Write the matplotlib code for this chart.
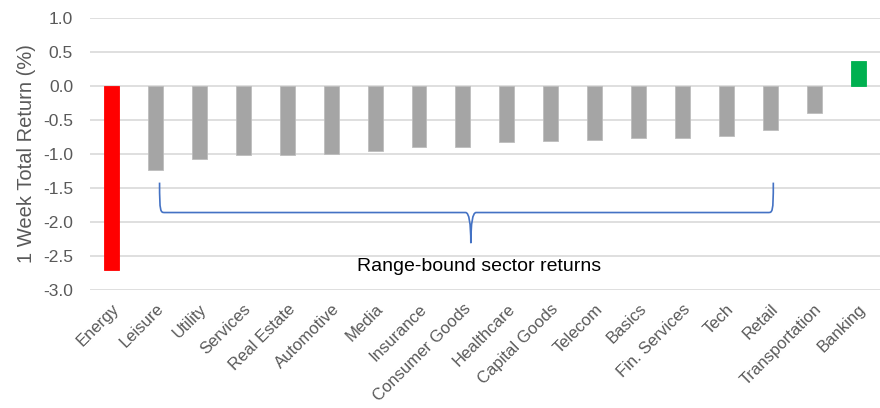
import numpy as np
import matplotlib.pyplot as plt
from matplotlib.path import Path
from matplotlib.patches import PathPatch

sectors = ["Energy", "Leisure", "Utility", "Services", "Real Estate", "Automotive",
           "Media", "Insurance", "Consumer Goods", "Healthcare", "Capital Goods",
           "Telecom", "Basics", "Fin. Services", "Tech", "Retail", "Transportation",
           "Banking"]
returns = [-2.70, -1.24, -1.07, -1.02, -1.02, -1.00, -0.96, -0.90, -0.90, -0.83,
           -0.81, -0.79, -0.77, -0.77, -0.73, -0.64, -0.40, 0.36]
yticks = [1.0, 0.5, 0.0, -0.5, -1.0, -1.5, -2.0, -2.5, -3.0]

# bracket over the range-bound group (Leisure .. Retail)
brace_first, brace_last = 1, 15
brace_label = "Range-bound sector returns"

plt.rcParams["font.family"] = ["Liberation Sans", "DejaVu Sans"]

colors = []
for r in returns:
    if r == min(returns):
        colors.append("#FF0000")
    elif r > 0:
        colors.append("#00B050")
    else:
        colors.append("#A5A5A5")

fig = plt.figure(figsize=(8.8, 4.08), dpi=100)
ax = fig.add_axes([0.102, 0.289, 0.898, 0.667])

x = np.arange(len(sectors))
ax.bar(x, returns, width=0.34, color=colors, zorder=3,
       edgecolor=[c if c != "#A5A5A5" else "#BDBDBD" for c in colors], linewidth=0.6)

ax.set_xlim(-0.5, len(sectors) - 0.5)
ax.set_ylim(-3.0, 1.0)
ax.set_yticks(yticks)
ax.set_yticklabels([f"{v:.1f}" for v in yticks], fontsize=12.5, color="#595959")
ax.grid(axis="y", color="#D9D9D9", linewidth=1.2, zorder=0)
ax.set_axisbelow(True)
for s in ax.spines.values():
    s.set_visible(False)
ax.tick_params(axis="y", length=0, pad=12)
ax.set_xticks(x)
ax.set_xticklabels(sectors, rotation=45, ha="right", rotation_mode="anchor",
                   fontsize=12, color="#595959")
ax.tick_params(axis="x", length=0, pad=8)
ax.set_ylabel("1 Week Total Return (%)", fontsize=14.5, color="#595959", labelpad=5)

# curly brace
x0 = brace_first + 0.09
x1 = brace_last + 0.07
xm = (x0 + x1) / 2 + 0.1
top, mid, tip = -1.42, -1.86, -2.31
k = 0.12
verts = [(x0, top), (x0, mid), (x0 + 0.02, mid), (x0 + k, mid),
         (xm - k, mid), (xm, mid), (xm, tip),
         (xm, mid), (xm + k, mid),
         (x1 - k, mid), (x1 - 0.02, mid), (x1, mid), (x1, top)]
codes = [Path.MOVETO, Path.CURVE4, Path.CURVE4, Path.CURVE4,
         Path.LINETO, Path.CURVE3, Path.CURVE3,
         Path.CURVE3, Path.CURVE3,
         Path.LINETO, Path.CURVE4, Path.CURVE4, Path.CURVE4]
ax.add_patch(PathPatch(Path(verts, codes), fill=False, edgecolor="#4472C4",
                       linewidth=1.2, zorder=4))
ax.text(8.37, -2.65, brace_label, ha="center", va="center", fontsize=14,
        color="black")

fig.savefig("out.png", dpi=100)
